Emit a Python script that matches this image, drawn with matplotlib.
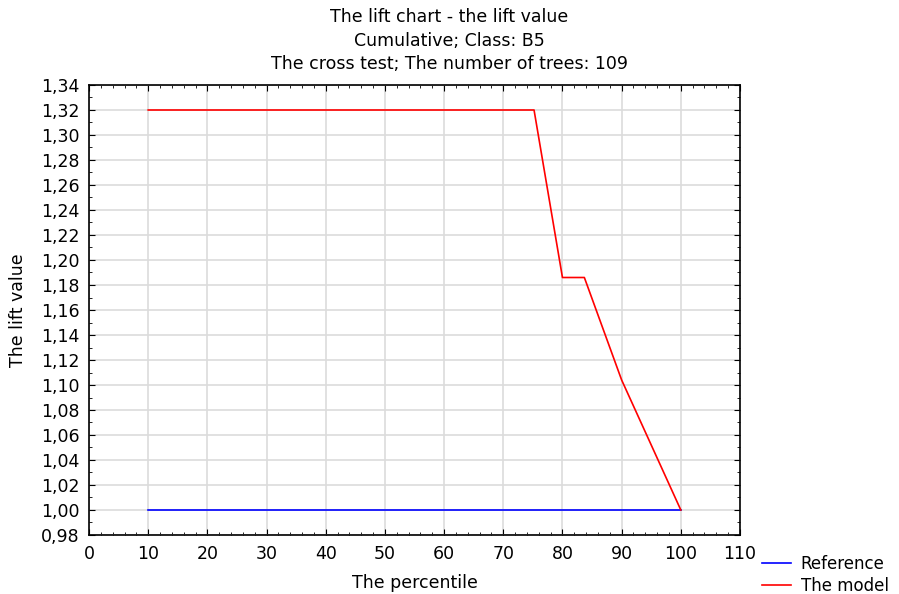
import numpy as np
import matplotlib.pyplot as plt
from matplotlib.ticker import MultipleLocator, FuncFormatter

# percentile values and lift values
percentile = [10, 20, 30, 40, 50, 60, 70, 75.2, 80, 83.7, 90, 100]
model_lift = [1.32, 1.32, 1.32, 1.32, 1.32, 1.32, 1.32, 1.32, 1.186, 1.186, 1.104, 1.00]
ref_percentile = [10, 100]
ref_lift = [1.00, 1.00]

plt.rcParams['font.family'] = ['DejaVu Sans']
fs = 12.5

fig = plt.figure(figsize=(8.99, 5.94), dpi=100)
ax = fig.add_axes([89 / 899, 1 - 535 / 594, (740 - 89) / 899, (535 - 85) / 594])

ref_line, = ax.plot(ref_percentile, ref_lift, color='#0000ff', lw=1.2, label='Reference')
model_line, = ax.plot(percentile, model_lift, color='#ff0000', lw=1.2, label='The model')

ax.set_xlim(0, 110)
ax.set_ylim(0.98, 1.34)
ax.xaxis.set_major_locator(MultipleLocator(10))
ax.xaxis.set_minor_locator(MultipleLocator(2))
ax.yaxis.set_major_locator(MultipleLocator(0.02))
ax.yaxis.set_minor_locator(MultipleLocator(0.01))
ax.yaxis.set_major_formatter(FuncFormatter(lambda v, p: ('%.2f' % v).replace('.', ',')))

ax.tick_params(which='both', direction='in', top=True, right=True, labelsize=fs)
ax.tick_params(which='major', length=4)
ax.tick_params(which='minor', length=2)
ax.tick_params(axis='x', pad=7)
ax.tick_params(axis='y', pad=7)
ax.grid(True, which='major', color='#dcdcdc', lw=1.2)
ax.set_axisbelow(True)
for s in ax.spines.values():
    s.set_linewidth(1.2)

ax.set_xlabel('The percentile', fontsize=fs, labelpad=8)
ax.set_ylabel('The lift value', fontsize=fs, labelpad=10)

fig.text(0.5, 1 - 17 / 594, 'The lift chart - the lift value', ha='center', va='center', fontsize=fs)
fig.text(0.5, 1 - 41 / 594, 'Cumulative; Class: B5', ha='center', va='center', fontsize=fs)
fig.text(0.5, 1 - 64 / 594, 'The cross test; The number of trees: 109', ha='center', va='center', fontsize=fs)

fig.legend(handles=[ref_line, model_line], loc='upper left', bbox_to_anchor=(750 / 899, 1 - 543 / 594),
           frameon=False, fontsize=12, handlelength=1.75, borderpad=0.2,
           labelspacing=0.25, handletextpad=0.6)

fig.savefig('out.png', dpi=100)
